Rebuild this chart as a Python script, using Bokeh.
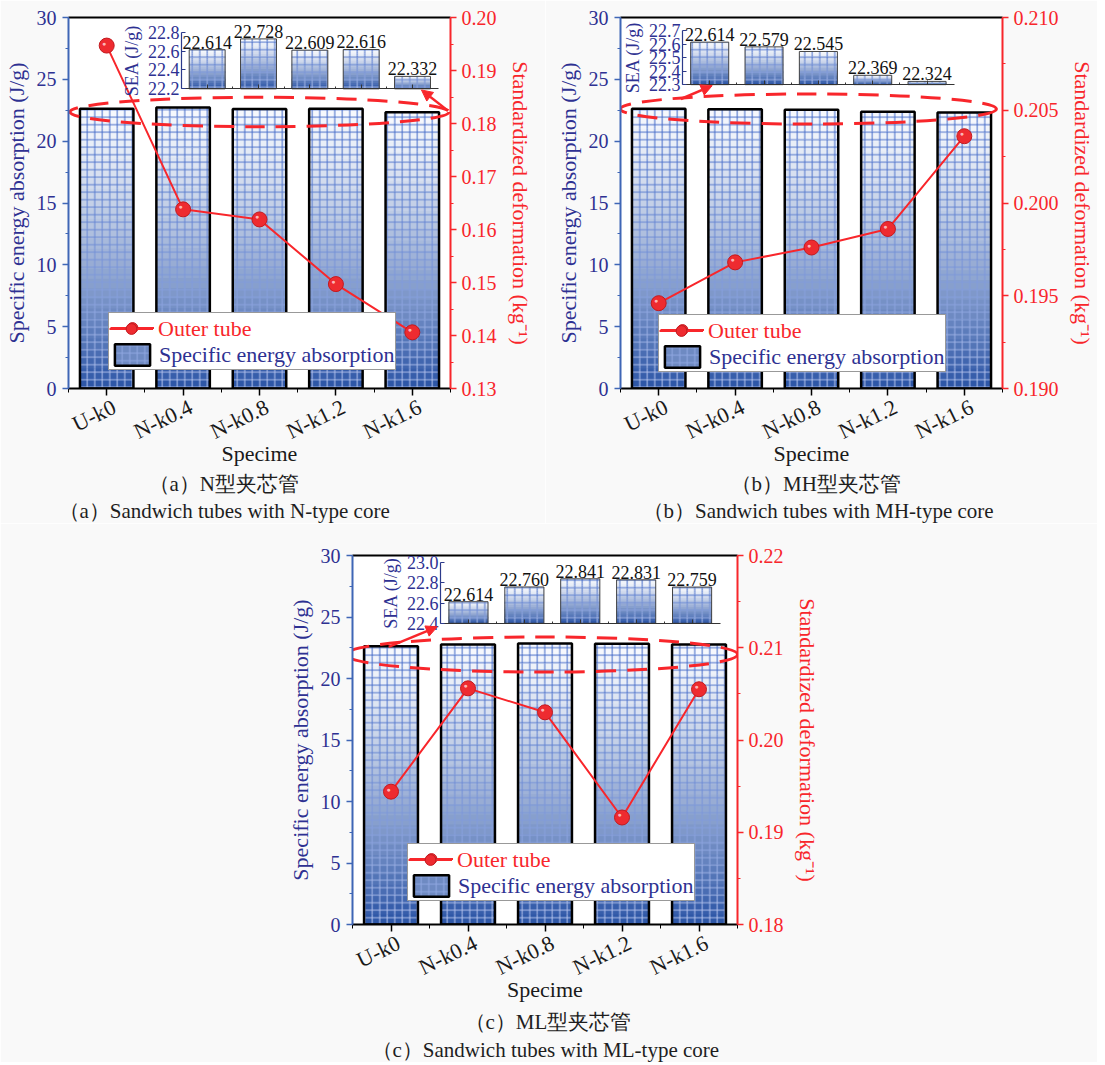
import math
from bokeh.plotting import figure
from bokeh.models import (Range1d, LinearAxis, FixedTicker, PrintfTickFormatter, Legend,
                          LegendItem, Title, Arrow, NormalHead)
from bokeh.layouts import column, row
from bokeh.embed import file_html
from bokeh.resources import INLINE
from bokeh.core.properties import value

# ---------------- data ----------------
specimens = ["U-k0", "N-k0.4", "N-k0.8", "N-k1.2", "N-k1.6"]
positions = [1, 2, 3, 4, 5]

sea_n = [22.614, 22.728, 22.609, 22.616, 22.332]
sea_mh = [22.614, 22.579, 22.545, 22.369, 22.324]
sea_ml = [22.614, 22.760, 22.841, 22.831, 22.759]

deform_n = [0.1947, 0.1638, 0.1619, 0.1497, 0.1406]
deform_mh = [0.1946, 0.1968, 0.1976, 0.1986, 0.2036]
deform_ml = [0.1944, 0.2056, 0.2030, 0.1916, 0.2055]

sea_ticks = [0, 5, 10, 15, 20, 25, 30]
deform_ticks_n = [0.13, 0.14, 0.15, 0.16, 0.17, 0.18, 0.19, 0.20]
deform_ticks_mh = [0.190, 0.195, 0.200, 0.205, 0.210]
deform_ticks_ml = [0.18, 0.19, 0.20, 0.21, 0.22]
inset_ticks_n = [22.2, 22.4, 22.6, 22.8]
inset_ticks_mh = [22.3, 22.4, 22.5, 22.6, 22.7]
inset_ticks_ml = [22.4, 22.6, 22.8, 23.0]

captions_cn = ["（a）N型夹芯管", "（b）MH型夹芯管", "（c）ML型夹芯管"]
captions_en = ["（a）Sandwich tubes with N-type core",
               "（b）Sandwich tubes with MH-type core",
               "（c）Sandwich tubes with ML-type core"]

# ---------------- style ----------------
SERIF = "'Liberation Serif', serif"
NAVY = "#2e3192"
AXBLUE = "#3f66b6"
RED = "#f8262b"
BORDER_BG = "#f9f9f9"
LABEL_SHIFT = 0.1   # tick labels sit slightly right of their ticks in the original


def mix(c1, c2, t):
    a = [int(c1[i:i + 2], 16) for i in (1, 3, 5)]
    b = [int(c2[i:i + 2], 16) for i in (1, 3, 5)]
    return "#%02x%02x%02x" % tuple(int(round(a[k] + (b[k] - a[k]) * t)) for k in range(3))


def mids(t):
    return [(a + b) / 2 for a, b in zip(t[:-1], t[1:])]


def gradient_bars(p, xs, base, vals, width, n, outline_color, outline_width, **rn):
    rs = []
    for i in range(n):
        frac = (n - i) / n
        tops = [base + (v - base) * frac for v in vals]
        d = (1 - (frac - 0.5 / n)) ** 1.3
        r = p.vbar(x=xs, bottom=base, top=tops, width=width,
                   fill_color=mix("#f7f9fd", "#2953a5", d), line_color=None,
                   hatch_pattern="+", hatch_scale=7.5, hatch_weight=1.0,
                   hatch_color=mix("#3e66c6", "#b9c7ee", d), **rn)
        rs.append(r)
    outline = p.vbar(x=xs, bottom=base, top=vals, width=width, fill_color=None,
                     line_color=outline_color, line_width=outline_width, **rn)
    return rs, outline


def make_panel(sea, deform, deform_ticks, dfmt, inset_ticks, cfg):
    p = figure(width=cfg["w"], height=cfg["h"], x_range=Range1d(0.5, 5.5),
               y_range=Range1d(0, 30), output_backend="svg", toolbar_location=None,
               min_border_left=cfg["bl"], min_border_right=cfg["br"],
               min_border_top=cfg["bt"], min_border_bottom=cfg["bb"],
               background_fill_color="white", border_fill_color=BORDER_BG,
               outline_line_color=None)
    p.xgrid.visible = False
    p.ygrid.visible = False

    lo, hi = inset_ticks[0], inset_ticks[-1]
    x0, x1, y0, y1 = cfg["inset"]
    ix = Range1d(0.5 + (0.5 - x0) * 5 / (x1 - x0), 0.5 + (5.5 - x0) * 5 / (x1 - x0))
    iy = Range1d(lo + (0 - y0) * (hi - lo) / (y1 - y0), lo + (30 - y0) * (hi - lo) / (y1 - y0))
    p.extra_x_ranges = {"ix": ix}
    p.extra_y_ranges = {"def": Range1d(deform_ticks[0], deform_ticks[-1]), "iy": iy}

    # main bars
    slices, outline = gradient_bars(p, positions, 0, sea, 0.7, 28, "black", 2.5)
    legend_slice = slices[20]

    # dashed ellipse
    ex, ey, ew, eh = cfg["ellipse"]
    p.ellipse(x=[ex], y=[ey], width=[ew], height=[eh], fill_color=None,
              line_color=RED, line_width=3, line_dash="20 11")

    # outer tube line
    lr = p.line(positions, deform, y_range_name="def", line_color=RED, line_width=2)
    sr = p.scatter(positions, deform, y_range_name="def", size=15,
                   fill_color="#ee2b30", line_color="#c21a1f", line_width=1)
    p.text(x=positions, y=deform, text=["\u25cf"] * len(deform), y_range_name="def",
           x_offset=-2.5, y_offset=-2.5, text_align="center", text_baseline="middle",
           text_font_size="7px", text_color="#ffc9c9", text_alpha=0.9)

    # inset bars
    gradient_bars(p, positions, lo, sea, 0.7, 20, "#444444", 1,
                  x_range_name="ix", y_range_name="iy")
    p.text(x=positions, y=sea, text=["%.3f" % v for v in sea], x_range_name="ix",
           y_range_name="iy", text_align="center", text_baseline="bottom", y_offset=-1,
           text_font=value(SERIF), text_font_size="18px", text_color="#111111")

    # arrow
    ax0, ay0, ax1, ay1 = cfg["arrow"]
    p.add_layout(Arrow(end=NormalHead(size=11, fill_color=RED, line_color=RED),
                       x_start=ax0, y_start=ay0, x_end=ax1, y_end=ay1,
                       line_color=RED, line_width=2.5))

    # ---- axes ----
    xa = p.xaxis[0]   # tick marks only
    xa.ticker = FixedTicker(ticks=positions, minor_ticks=[0.5, 1.5, 2.5, 3.5, 4.5, 5.5])
    xa.major_label_text_font_size = "0px"
    xa.major_label_text_color = None
    xa.major_label_standoff = 0
    xa.axis_line_color = "black"
    xa.axis_line_width = 2
    xa.major_tick_line_color = "black"
    xa.minor_tick_line_color = "black"
    xa.major_tick_out, xa.major_tick_in = 7, 0
    xa.minor_tick_out, xa.minor_tick_in = 4, 0
    xa.major_tick_line_width = 1.5

    label_ticks = [x + LABEL_SHIFT for x in positions]
    xl = LinearAxis(ticker=FixedTicker(ticks=label_ticks),
                    major_label_overrides=dict(zip(label_ticks, specimens)),
                    major_label_orientation=math.radians(26),
                    major_label_text_font=SERIF, major_label_text_font_size="22px",
                    major_label_text_color="#1a1a1a", major_label_standoff=10,
                    axis_label="Specime", axis_label_text_font=SERIF,
                    axis_label_text_font_style="normal", axis_label_text_font_size="22px",
                    axis_label_text_color="#1a1a1a", axis_label_standoff=-17,
                    axis_line_color=None, major_tick_line_color=None,
                    minor_tick_line_color=None, major_tick_out=0, major_tick_in=0,
                    minor_tick_out=0, minor_tick_in=0)
    p.add_layout(xl, "below")

    ya = p.yaxis[0]
    ya.ticker = FixedTicker(ticks=sea_ticks, minor_ticks=mids(sea_ticks))
    ya.major_label_text_font = SERIF
    ya.major_label_text_font_size = "20px"
    ya.major_label_text_color = NAVY
    ya.major_label_standoff = 6
    ya.axis_label = "Specific energy absorption (J/g)"
    ya.axis_label_text_font = SERIF
    ya.axis_label_text_font_style = "normal"
    ya.axis_label_text_font_size = "22px"
    ya.axis_label_text_color = NAVY
    ya.axis_label_standoff = 5
    ya.axis_line_color = AXBLUE
    ya.axis_line_width = 2
    ya.major_tick_line_color = AXBLUE
    ya.minor_tick_line_color = AXBLUE
    ya.major_tick_line_width = 1.5
    ya.major_tick_out, ya.major_tick_in = 6, 0
    ya.minor_tick_out, ya.minor_tick_in = 3, 0

    ra = LinearAxis(y_range_name="def",
                    ticker=FixedTicker(ticks=deform_ticks, minor_ticks=mids(deform_ticks)),
                    formatter=PrintfTickFormatter(format=dfmt),
                    axis_label="Standardized deformation (kg\u207b\u00b9)",
                    axis_label_text_font=SERIF, axis_label_text_font_style="normal",
                    axis_label_text_font_size="22px", axis_label_text_color=RED,
                    axis_label_standoff=8,
                    major_label_text_font=SERIF, major_label_text_font_size="20px",
                    major_label_text_color=RED, major_label_standoff=5,
                    axis_line_color=RED, axis_line_width=2,
                    major_tick_line_color=RED, minor_tick_line_color=RED,
                    major_tick_line_width=1.5,
                    major_tick_out=6, major_tick_in=0, minor_tick_out=3, minor_tick_in=0)
    p.add_layout(ra, "right")

    ta = LinearAxis(ticker=FixedTicker(ticks=[3]), major_label_text_font_size="0px",
                    major_label_text_color=None, major_tick_out=0, major_tick_in=0,
                    minor_tick_out=0, minor_tick_in=0, major_label_standoff=0,
                    axis_line_color="black", axis_line_width=2)
    p.add_layout(ta, "above")

    # inset axes
    ila = LinearAxis(x_range_name="ix", y_range_name="iy", fixed_location=0.5,
                     bounds=(lo, hi), ticker=FixedTicker(ticks=inset_ticks),
                     formatter=PrintfTickFormatter(format="%.1f"),
                     axis_label="SEA (J/g)", axis_label_text_font=SERIF,
                     axis_label_text_font_style="normal", axis_label_text_font_size="18px",
                     axis_label_text_color=NAVY, axis_label_standoff=3,
                     major_label_text_font=SERIF, major_label_text_font_size="18px",
                     major_label_text_color=NAVY, major_label_standoff=2,
                     axis_line_color="#2c3a8a", axis_line_width=1.2,
                     major_tick_line_color="#2c3a8a", major_tick_in=4, major_tick_out=0,
                     minor_tick_in=0, minor_tick_out=0)
    p.add_layout(ila, "left")
    iba = LinearAxis(x_range_name="ix", y_range_name="iy", fixed_location=lo,
                     bounds=(0.5, 5.5), ticker=FixedTicker(ticks=positions, minor_ticks=mids(positions)),
                     major_label_text_font_size="0px", major_label_text_color=None,
                     axis_line_color="#333333", axis_line_width=1.2,
                     major_tick_line_color="#333333", minor_tick_line_color="#333333",
                     major_tick_in=4, major_tick_out=0, minor_tick_in=2, minor_tick_out=0)
    p.add_layout(iba, "below")

    # legends: bordered box (blank first label) + red label overlay
    lx, ly = cfg["legend"]
    common = dict(orientation="vertical", spacing=0, glyph_width=44, glyph_height=27,
                  label_height=27, label_standoff=5, label_text_font=SERIF,
                  label_text_font_size="22px", margin=0)
    lg_box = Legend(items=[LegendItem(label=" ", renderers=[lr, sr]),
                           LegendItem(label="Specific energy absorption",
                                      renderers=[legend_slice, outline])],
                    location=(lx, ly), padding=1, label_text_color=NAVY,
                    border_line_color="#333333", border_line_width=1,
                    background_fill_color="white", background_fill_alpha=1.0, **common)
    lg_red = Legend(items=[LegendItem(label="Outer tube", renderers=[lr, sr])],
                    location=(lx + 1, ly + 28), padding=0, label_text_color=RED,
                    border_line_color=None, background_fill_alpha=0.0, **common)
    p.add_layout(lg_box)
    p.add_layout(lg_red)

    # captions
    for txt, off, sd in [(cfg["cap"][0], cfg["capoff"][0], cfg["capsd"][0]),
                         (cfg["cap"][1], cfg["capoff"][1], cfg["capsd"][1])]:
        p.add_layout(Title(text=txt, align="left", offset=off, text_font=SERIF,
                           text_font_size="21px", text_font_style="normal",
                           text_color="#1e1e1e", standoff=sd), "below")
    return p


cfg_a = dict(w=545, h=523, bl=68, br=95, bt=17, bb=130,
             inset=(1.979, 5.339, 24.23, 28.82), ellipse=(3.0, 22.36, 4.96, 2.38),
             arrow=(5.466, 22.47, 5.12, 24.14), legend=(40, 18),
             cap=(captions_cn[0], captions_en[0]), capoff=(80, -10), capsd=(1, 1))
cfg_b = dict(w=552, h=523, bl=75, br=90, bt=17, bb=130,
             inset=(1.312, 4.868, 24.57, 28.95), ellipse=(2.96, 22.6, 4.92, 2.43),
             arrow=(1.29, 23.41, 1.70, 24.49), legend=(38, 16),
             cap=(captions_cn[1], captions_en[1]), capoff=(110, 22), capsd=(1, 1))
cfg_c = dict(w=1097, h=539, bl=352, br=360, bt=32, bb=130,
             inset=(1.643, 5.273, 24.49, 29.41), ellipse=(2.955, 21.95, 5.09, 2.86),
             arrow=(0.97, 22.57, 1.60, 24.2), legend=(55, 23),
             cap=(captions_cn[2], captions_en[2]), capoff=(112, 19), capsd=(4, 1))

pa = make_panel(sea_n, deform_n, deform_ticks_n, "%.2f", inset_ticks_n, cfg_a)
pb = make_panel(sea_mh, deform_mh, deform_ticks_mh, "%.3f", inset_ticks_mh, cfg_b)
pc = make_panel(sea_ml, deform_ml, deform_ticks_ml, "%.2f", inset_ticks_ml, cfg_c)

layout = column(row(pa, pb), pc)
open("out.html", "w").write(file_html(layout, INLINE))
